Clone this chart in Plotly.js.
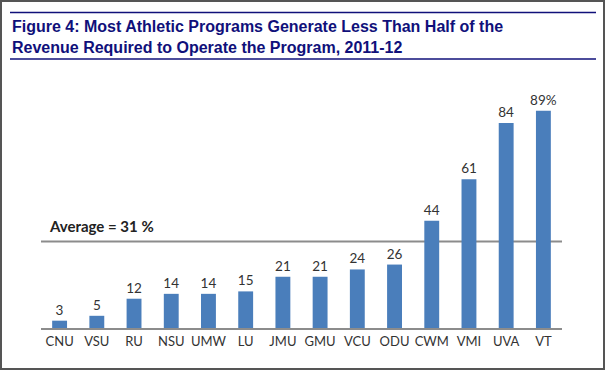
<!DOCTYPE html>
<html>
<head>
<meta charset="utf-8">
<script src="https://cdn.plot.ly/plotly-3.0.1.min.js"></script>
<style>
html,body{margin:0;padding:0;background:#fff;}
#chart{width:605px;height:371px;}
</style>
</head>
<body>
<div id="chart"></div>
<script>
const categories = ["CNU","VSU","RU","NSU","UMW","LU","JMU","GMU","VCU","ODU","CWM","VMI","UVA","VT"];
const values = [3,5,12,14,14,15,21,21,24,26,44,61,84,89];
const valueLabels = ["3","5","12","14","14","15","21","21","24","26","44","61","84","89%"];
const averageLabel = "Average = 31 %";
const averageLineLevel = 35.5; // where the reference draws its average line
const titleText = "Figure 4: Most Athletic Programs Generate Less Than Half of the<br>Revenue Required to Operate the Program, 2011-12";

const W = 605, H = 371;
const L = 41, R = 562, T = 84, B = 328;
const px = x => (x - L) / (R - L);
const py = y => (B - y) / (B - T);

const navy = "#10107a";

const data = [{
  type: "bar",
  x: categories,
  y: values,
  text: valueLabels,
  textposition: "outside",
  constraintext: "none",
  cliponaxis: false,
  textfont: {family: "Lato, 'Open Sans', sans-serif", size: 13.5, color: "#333"},
  marker: {color: "#4a7ebb"},
  width: 0.4,
  hoverinfo: "x+y"
}];

const layout = {
  width: W, height: H,
  margin: {l: L, r: W - R, t: T, b: H - B},
  paper_bgcolor: "#fff",
  plot_bgcolor: "#fff",
  showlegend: false,
  title: {
    text: titleText,
    font: {family: "'Liberation Sans', Arial, sans-serif", size: 16, color: navy, weight: "bold"},
    x: 12 / W, xanchor: "left", xref: "container",
    y: 1 - 32 / H, yanchor: "top", yref: "container"
  },
  xaxis: {
    type: "category",
    range: [-0.5, categories.length - 0.5],
    showgrid: false, zeroline: false,
    showline: true, linecolor: "#8c8c8c", linewidth: 2,
    ticks: "", ticklen: 0,
    tickfont: {family: "Lato, 'Open Sans', sans-serif", size: 13, color: "#333"},
    fixedrange: true
  },
  yaxis: {
    range: [0, 100],
    visible: false,
    showgrid: false, zeroline: false,
    fixedrange: true
  },
  bargap: 0.6,
  shapes: [
    {type: "line", xref: "paper", yref: "y", x0: 0, x1: 1, y0: averageLineLevel, y1: averageLineLevel,
     line: {color: "#8c8c8c", width: 2}, layer: "below"},
    {type: "line", xref: "paper", yref: "paper", x0: px(10), x1: px(596), y0: py(12.5), y1: py(12.5),
     line: {color: navy, width: 1.5}},
    {type: "line", xref: "paper", yref: "paper", x0: px(10), x1: px(596), y0: py(59), y1: py(59),
     line: {color: navy, width: 1.5}},
    {type: "rect", xref: "paper", yref: "paper", x0: px(1), x1: px(604), y0: py(1), y1: py(369),
     line: {color: "#555", width: 2}, fillcolor: "rgba(0,0,0,0)"}
  ],
  annotations: [
    {text: "<b>" + averageLabel + "</b>", xref: "paper", yref: "paper",
     x: px(47), y: py(226), xanchor: "left", yanchor: "middle", showarrow: false,
     font: {family: "Lato, 'Open Sans', sans-serif", size: 15, color: "#222"}}
  ]
};

Plotly.newPlot("chart", data, layout, {displayModeBar: false, staticPlot: true});
</script>
</body>
</html>
